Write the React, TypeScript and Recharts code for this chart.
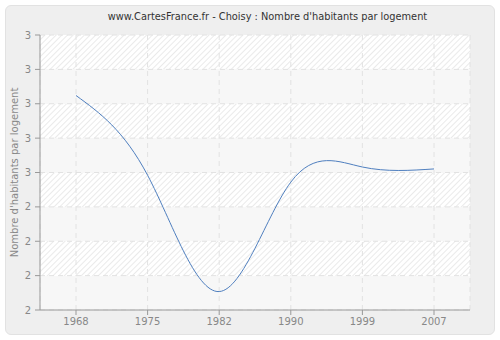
import { LineChart, Line, XAxis, YAxis, CartesianGrid } from "recharts";

const years = ["1968", "1975", "1982", "1990", "1999", "2007"];
const perHousing = [2.78, 2.49, 2.067, 2.465, 2.52, 2.513];
const yTicks = [2, 2.125, 2.25, 2.375, 2.5, 2.625, 2.75, 2.875, 3];

const data = years.map((year, i) => ({ year, value: perHousing[i] }));

const FONT = "'DejaVu Sans', Verdana, sans-serif";
const tickStyle = { fontSize: 10, fill: "#888", fontFamily: FONT };

// eslint-disable-next-line @typescript-eslint/no-explicit-any
function YLabel({ viewBox }: any) {
  const cy = viewBox ? viewBox.y + viewBox.height / 2 : 172;
  return (
    <text
      x={14}
      y={cy}
      transform={`rotate(-90, 14, ${cy})`}
      textAnchor="middle"
      dominantBaseline="central"
      fontSize={10}
      fill="#888"
      fontFamily={FONT}
    >
      Nombre d'habitants par logement
    </text>
  );
}

export default function App() {
  return (
    <div style={{ position: "absolute", left: 0, top: 0, width: 500, height: 340, background: "#fff" }}>
      <div
        style={{
          position: "absolute",
          left: 5,
          top: 5,
          width: 488,
          height: 328,
          background: "#efefef",
          border: "1px solid #e2e2e2",
          borderRadius: 6,
        }}
      />
      <div
        style={{
          position: "absolute",
          left: 0,
          top: 11,
          width: 535,
          textAlign: "center",
          fontFamily: FONT,
          fontSize: 9.8,
          color: "#333",
        }}
      >
        www.CartesFrance.fr - Choisy : Nombre d'habitants par logement
      </div>
      <div style={{ position: "absolute", left: 0, top: 0 }}>
        <LineChart
          width={500}
          height={340}
          data={data}
          margin={{ top: 35, right: 30, left: 0, bottom: 0 }}
        >
          <defs>
            <pattern
              id="hatch"
              width={4}
              height={4}
              patternUnits="userSpaceOnUse"
              patternTransform="rotate(45)"
            >
              <rect width={4} height={4} fill="#ffffff" />
              <line x1={0} y1={0} x2={0} y2={4} stroke="#e4e4e4" strokeWidth={1.5} />
            </pattern>
          </defs>
          <CartesianGrid
            stroke="#e2e2e2"
            strokeDasharray="5 4"
            horizontalFill={["url(#hatch)", "#f7f7f7"]}
            fillOpacity={1}
          />
          <XAxis
            dataKey="year"
            height={30}
            padding={{ left: 36, right: 36 }}
            tickLine={{ stroke: "#999" }}
            axisLine={{ stroke: "#999" }}
            tickSize={5}
            tickMargin={3}
            tick={tickStyle}
            interval={0}
          />
          <YAxis
            width={40}
            domain={[2, 3]}
            ticks={yTicks}
            tickFormatter={(v: number) => String(Math.round(v))}
            tickLine={{ stroke: "#999" }}
            axisLine={{ stroke: "#999" }}
            tickSize={5}
            tickMargin={4}
            tick={tickStyle}
            interval={0}
            label={<YLabel />}
          />
          <Line
            type="natural"
            dataKey="value"
            stroke="#4f7fbf"
            strokeWidth={1}
            dot={false}
            isAnimationActive={false}
          />
        </LineChart>
      </div>
    </div>
  );
}
